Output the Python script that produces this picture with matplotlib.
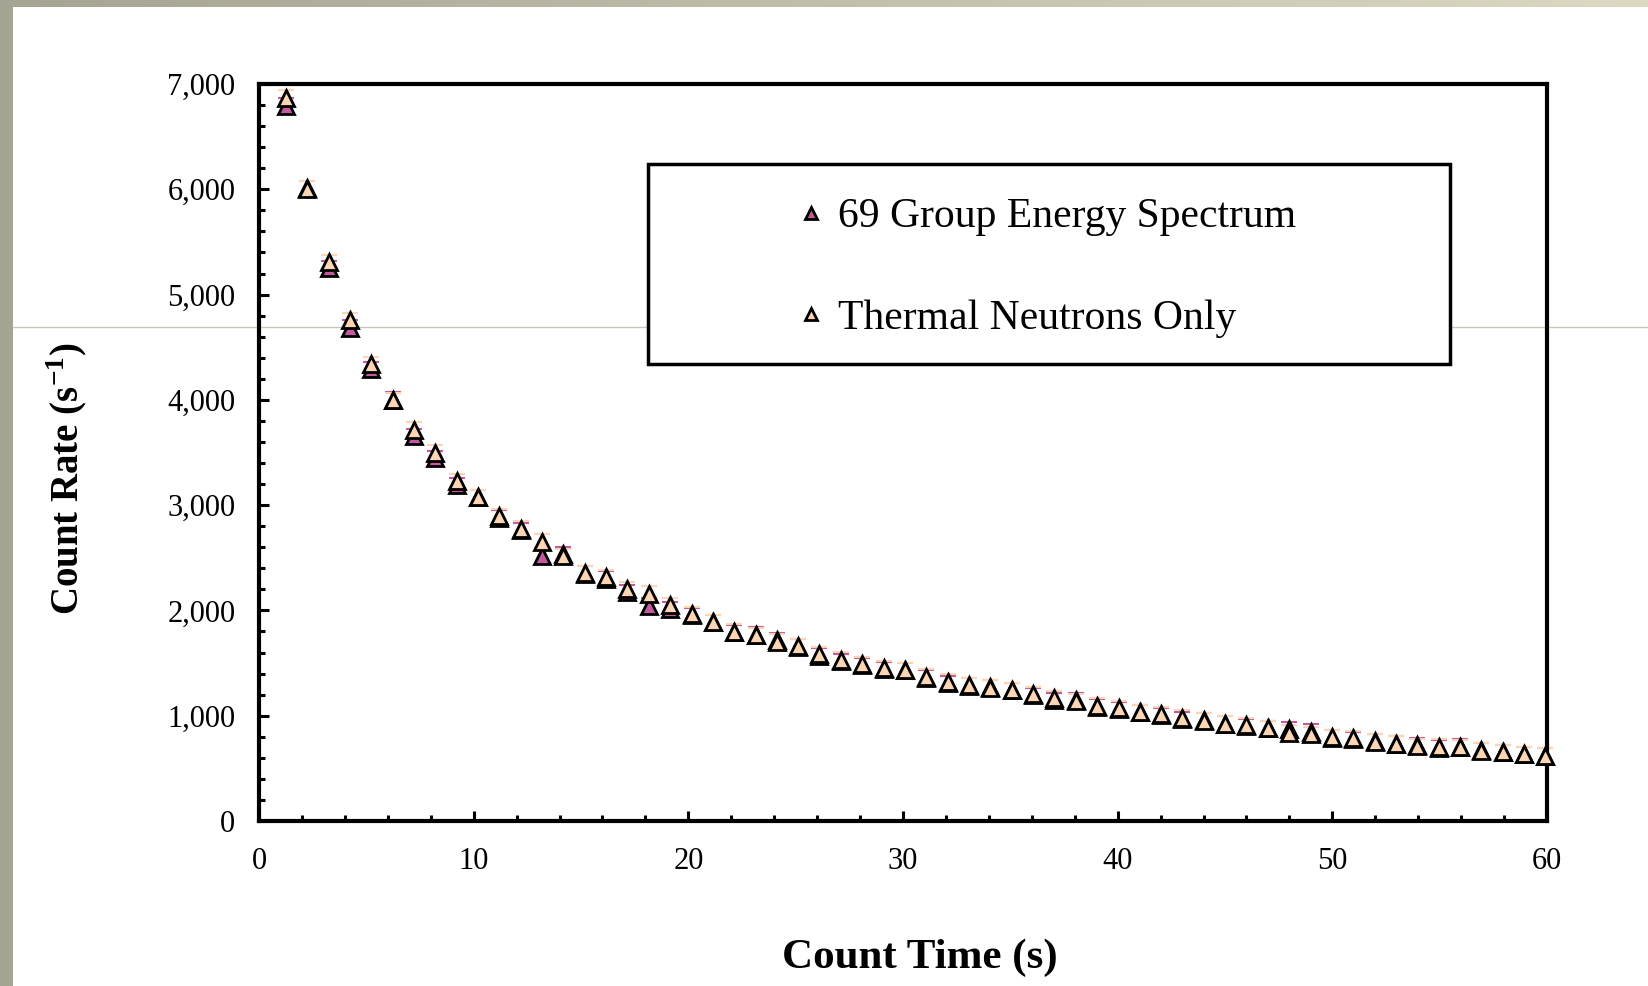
import numpy as np
import matplotlib
matplotlib.use('Agg')
import matplotlib.pyplot as plt
from matplotlib.ticker import MultipleLocator, StrMethodFormatter
from matplotlib.patches import Rectangle
from matplotlib.lines import Line2D
from matplotlib.colors import LinearSegmentedColormap

plt.rcParams['font.family'] = 'Liberation Serif'
plt.rcParams['mathtext.fontset'] = 'custom'
plt.rcParams['mathtext.rm'] = 'Liberation Serif'
plt.rcParams['mathtext.bf'] = 'Liberation Serif:bold'

# count time (s)
count_time = [1.25, 2.24, 3.24, 4.23, 5.23, 6.22, 7.22, 8.21, 9.21, 10.2,
              11.2, 12.19, 13.18, 14.18, 15.17, 16.17, 17.16, 18.16, 19.15, 20.15,
              21.14, 22.13, 23.13, 24.12, 25.12, 26.11, 27.11, 28.1, 29.1, 30.09,
              31.09, 32.08, 33.07, 34.07, 35.06, 36.06, 37.05, 38.05, 39.04, 40.04,
              41.03, 42.02, 43.02, 44.01, 45.01, 46.0, 47.0, 47.99, 48.99, 49.98,
              50.98, 51.97, 52.96, 53.96, 54.95, 55.95, 56.94, 57.94, 58.93, 59.93]

# count rate (1/s)
group69 = [6795, 6010, 5248, 4685, 4293, 4000, 3656, 3447, 3188, 3077,
           2880, 2765, 2520, 2535, 2350, 2300, 2171, 2045, 2010, 1955,
           1890, 1795, 1770, 1715, 1655, 1570, 1516, 1480, 1440, 1430,
           1360, 1310, 1285, 1270, 1240, 1195, 1150, 1150, 1085, 1065,
           1035, 1005, 965, 960, 925, 900, 880, 870, 850, 790,
           780, 760, 735, 720, 695, 705, 670, 655, 635, 620]
thermal = [6871, 6005, 5307, 4758, 4337, 3998, 3716, 3497, 3226, 3077,
           2896, 2776, 2653, 2517, 2352, 2314, 2200, 2159, 2051, 1966,
           1890, 1798, 1767, 1703, 1659, 1583, 1532, 1491, 1450, 1434,
           1370, 1323, 1292, 1266, 1241, 1206, 1165, 1140, 1095, 1072,
           1035, 1016, 981, 953, 924, 909, 880, 839, 826, 798,
           788, 753, 735, 712, 706, 700, 668, 652, 633, 620]
err = 70

purple = '#C45A9E'
peach = '#FCD5B4'

W, H = 1648, 986
fig = plt.figure(figsize=(W / 100, H / 100), dpi=100)
fig.patch.set_facecolor('white')

# slide decoration: left strip, top gradient strip, thin rule
fig.patches.append(Rectangle((0, 0), 13 / W, 1, transform=fig.transFigure,
                             facecolor='#a6a492', edgecolor='none', zorder=0))
top = fig.add_axes([0, 1 - 7 / H, 1, 7 / H])
grad = np.linspace(0, 1, 256).reshape(1, -1)
cm = LinearSegmentedColormap.from_list('strip', ['#a6a492', '#dcd8c2'])
top.imshow(grad, aspect='auto', cmap=cm)
top.axis('off')
fig.lines.append(Line2D([13 / W, 1], [1 - 327 / H, 1 - 327 / H], transform=fig.transFigure,
                        color='#c9c8b6', lw=1, zorder=-1))

ax = fig.add_axes([259 / W, 1 - 821 / H, (1547 - 259) / W, (821 - 84) / H])
ax.set_facecolor('none')
ax.set_zorder(2)

ax.errorbar(count_time, group69, yerr=err, fmt='none', ecolor=purple, elinewidth=1.0,
            capsize=6, capthick=1.5, zorder=2, clip_on=False)
ax.errorbar(count_time, thermal, yerr=err, fmt='none', ecolor=peach, elinewidth=1.0,
            capsize=6, capthick=1.5, zorder=2, clip_on=False)
ax.plot(count_time, group69, '^', ms=11, mfc=purple, mec='black', mew=2,
        label='69 Group Energy Spectrum', zorder=3, clip_on=False)
ax.plot(count_time, thermal, '^', ms=11, mfc=peach, mec='black', mew=2,
        label='Thermal Neutrons Only', zorder=4, clip_on=False)

ax.set_xlim(0, 60)
ax.set_ylim(0, 7000)
ax.xaxis.set_major_locator(MultipleLocator(10))
ax.xaxis.set_minor_locator(MultipleLocator(2))
ax.yaxis.set_major_locator(MultipleLocator(1000))
ax.yaxis.set_minor_locator(MultipleLocator(200))
ax.yaxis.set_major_formatter(StrMethodFormatter('{x:,.0f}'))

for s in ax.spines.values():
    s.set_linewidth(3)
ax.tick_params(which='both', direction='in', top=False, right=False, width=2.2)
ax.tick_params(which='major', length=7)
ax.tick_params(which='minor', length=4.5)
ax.tick_params(axis='x', which='major', labelsize=22, pad=19)
ax.tick_params(axis='y', which='major', labelsize=22, pad=17)

ax.set_xlabel('Count Time (s)', fontsize=31, fontweight='bold')
ax.set_ylabel(r'Count Rate (s$^{\mathbf{-1}}$)', fontsize=28, fontweight='bold')
ax.xaxis.set_label_coords(0.513, -0.159)
ax.yaxis.set_label_coords(-0.131, 0.465)

# legend box
ax.add_patch(Rectangle(((648 - 259) / 1288, (821 - 364) / 737), (1450 - 648) / 1288, 200 / 737,
                       transform=ax.transAxes, facecolor='white', edgecolor='black',
                       lw=2.5, zorder=5))
leg = ax.legend(loc='upper left', bbox_to_anchor=((798 - 259) / 1288, (821 - 198) / 737),
                frameon=False, fontsize=30, markerscale=0.85, handlelength=0.6,
                handletextpad=0.35, labelspacing=1.5, borderpad=0, borderaxespad=0)
leg.set_zorder(6)

fig.savefig('out.png', dpi=100, facecolor=fig.get_facecolor())
